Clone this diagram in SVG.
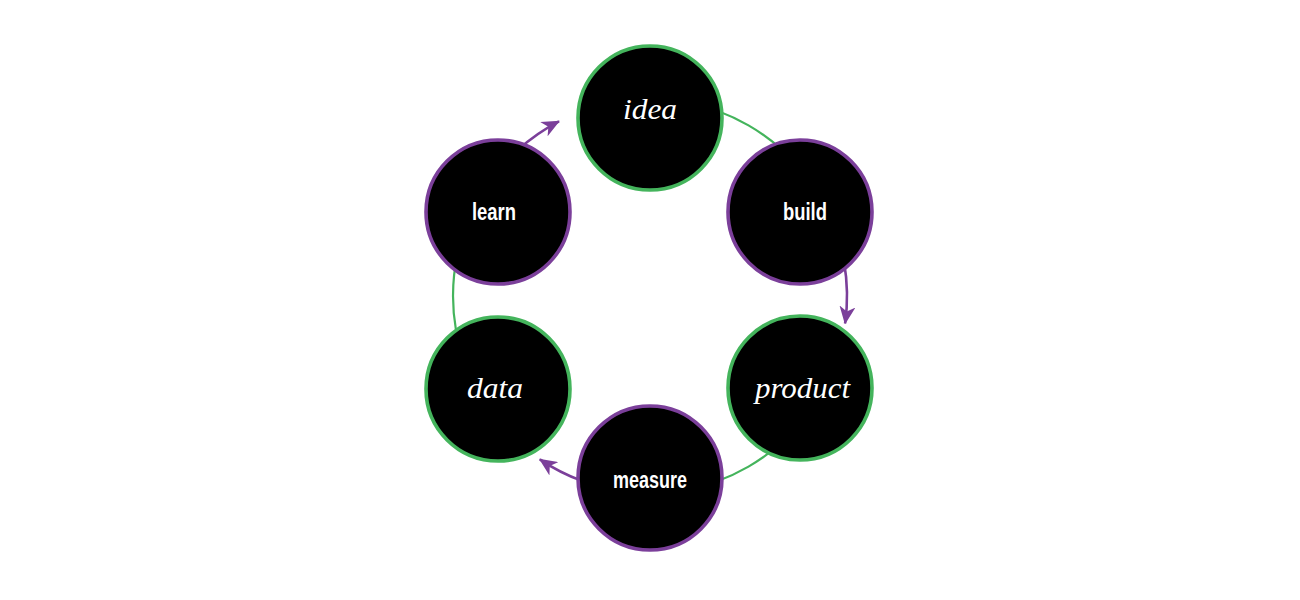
<svg xmlns="http://www.w3.org/2000/svg" width="1300" height="600" viewBox="0 0 1300 600">
  <style>
    .node { fill: #000000; stroke-width: 3.6; }
    .g { stroke: #44b45c; }
    .p { stroke: #7b3f9a; }
    .link { fill: none; }
    .lg { stroke: #44b45c; stroke-width: 2.2; }
    .lp { stroke: #7b3f9a; stroke-width: 2.6; }
    .serif { font-family: "Liberation Serif", "DejaVu Serif", serif; font-style: italic; font-size: 29px; fill: #ffffff; }
    .sans { font-family: "Liberation Sans", Arial, sans-serif; font-weight: bold; font-size: 23px; fill: #ffffff; }
  </style>
  <defs>
    <marker id="arrow" markerUnits="userSpaceOnUse" viewBox="0 0 18 16" markerWidth="18" markerHeight="16" refX="17" refY="8" orient="auto">
      <path d="M0,0 L18,8 L0,16 L5,8 Z" fill="#7b3f9a"/>
    </marker>
  </defs>
  <rect x="0" y="0" width="1300" height="600" fill="#ffffff"/>
  <g id="connectors">
    <path class="link lg" d="M684.2,102 A197,197 0 0 1 800.9,169.4"/>
    <path class="link lg" d="M800.9,422.6 A197,197 0 0 1 684.2,490"/>
    <path class="link lg" d="M464.9,363.4 A197,197 0 0 1 464.9,228.6"/>
    <path class="link lp" d="M518.2,149.6 A197,197 0 0 1 559,121.3" marker-end="url(#arrow)"/>
    <path class="link lp" d="M844,261.8 A197,197 0 0 1 845.1,323.4" marker-end="url(#arrow)"/>
    <path class="link lp" d="M582.6,481.1 A197,197 0 0 1 539.8,459.3" marker-end="url(#arrow)"/>
  </g>
  <g id="idea">
    <circle class="node g" cx="650" cy="118" r="72"/>
    <text class="serif" x="650" y="119" text-anchor="middle" textLength="54" lengthAdjust="spacingAndGlyphs">idea</text>
  </g>
  <g id="build">
    <circle class="node p" cx="800" cy="212" r="72"/>
    <text class="sans" x="805" y="220" text-anchor="middle" textLength="44" lengthAdjust="spacingAndGlyphs">build</text>
  </g>
  <g id="product">
    <circle class="node g" cx="800" cy="388" r="72"/>
    <text class="serif" x="802.5" y="398" text-anchor="middle" textLength="95" lengthAdjust="spacingAndGlyphs">product</text>
  </g>
  <g id="measure">
    <circle class="node p" cx="650" cy="478" r="72"/>
    <text class="sans" x="650" y="488" text-anchor="middle" textLength="74" lengthAdjust="spacingAndGlyphs">measure</text>
  </g>
  <g id="data">
    <circle class="node g" cx="498" cy="389" r="72"/>
    <text class="serif" x="495" y="398" text-anchor="middle" textLength="56" lengthAdjust="spacingAndGlyphs">data</text>
  </g>
  <g id="learn">
    <circle class="node p" cx="498" cy="212" r="72"/>
    <text class="sans" x="494" y="220" text-anchor="middle" textLength="44" lengthAdjust="spacingAndGlyphs">learn</text>
  </g>
</svg>
